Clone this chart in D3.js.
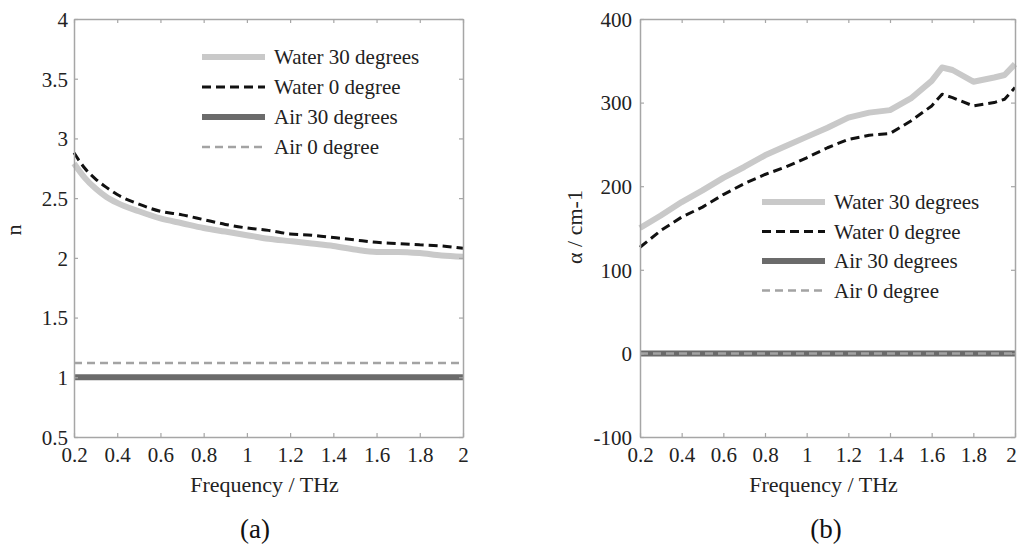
<!DOCTYPE html>
<html>
<head>
<meta charset="utf-8">
<script src="https://cdn.jsdelivr.net/npm/d3@7"></script>
<style>
  body { margin: 0; background: #fff; }
  svg text { font-family: "Liberation Serif", "Times New Roman", Times, "DejaVu Serif", serif; }
</style>
</head>
<body>
<svg id="chart" width="1019" height="548"></svg>
<script>
// frequencies (THz)
const freqA = [0.2, 0.25, 0.3, 0.35, 0.4, 0.5, 0.6, 0.7, 0.8, 0.9, 1.0, 1.1, 1.2, 1.3, 1.4, 1.5, 1.6, 1.7, 1.8, 1.9, 2.0]
const nWater30 = [2.79, 2.67, 2.58, 2.51, 2.46, 2.39, 2.33, 2.29, 2.25, 2.22, 2.19, 2.16, 2.14, 2.12, 2.10, 2.07, 2.05, 2.05, 2.04, 2.02, 2.01]
const nWater0 = [2.88, 2.75, 2.66, 2.59, 2.53, 2.45, 2.39, 2.36, 2.32, 2.28, 2.25, 2.23, 2.20, 2.19, 2.17, 2.15, 2.13, 2.12, 2.11, 2.10, 2.08]
const nAir30 = [1.0, 1.0]
const nAir0 = [1.12, 1.12]

const freqB = [0.2, 0.3, 0.4, 0.5, 0.6, 0.7, 0.8, 0.9, 1.0, 1.1, 1.2, 1.3, 1.4, 1.5, 1.6, 1.65, 1.7, 1.8, 1.9, 1.95, 2.0]
const aWater30 = [150, 165, 181, 195, 210, 223, 237, 248, 259, 270, 282, 288, 291, 305, 326, 342, 339, 325, 330, 333, 346]
const aWater0 = [127, 147, 163, 175, 190, 203, 214, 223, 234, 246, 256, 261, 263, 278, 296, 310, 306, 296, 300, 304, 318]
const aAir30 = [0, 0]
const aAir0 = [0, 0]
const freqEnds = [0.2, 2.0]

const xTicks = [0.2, 0.4, 0.6, 0.8, 1, 1.2, 1.4, 1.6, 1.8, 2]
const nTicks = [0.5, 1, 1.5, 2, 2.5, 3, 3.5, 4]
const aTicks = [-100, 0, 100, 200, 300, 400]
const seriesNames = ["Water 30 degrees", "Water 0 degree", "Air 30 degrees", "Air 0 degree"]

const styles = [
    {stroke: "#c9c9c9", width: 6, dash: null},
    {stroke: "#111", width: 3, dash: "9,5"},
    {stroke: "#6b6b6b", width: 6, dash: null},
    {stroke: "#a3a3a3", width: 2.5, dash: "8,5"}
]

const FONT = "'Liberation Serif', 'Times New Roman', Times, 'DejaVu Serif', serif"
const svg = d3.select("#chart")

function drawPanel(p) {
    const x = d3.scaleLinear().domain([0.2, 2]).range([p.x0, p.x1])
    const y = d3.scaleLinear().domain(p.yDomain).range([p.y1, p.y0])
    const g = svg.append("g")

    const line = d3.line()
        .x(d => x(d[0]))
        .y(d => y(d[1]))
        .curve(p.curve)

    p.series.forEach((s, i) => {
        const pts = s.xs.map((v, j) => [v, s.ys[j]])
        g.append("path")
            .datum(pts)
            .attr("d", line)
            .attr("fill", "none")
            .attr("stroke", styles[i].stroke)
            .attr("stroke-width", styles[i].width)
            .attr("stroke-dasharray", styles[i].dash)
            .attr("stroke-linejoin", "round")
    })

    // box + inward ticks on all sides
    const axisColor = "#a6a6a6"
    const fmt = d => String(d)
    const axes = [
        d3.axisBottom(x).tickValues(xTicks).tickSizeInner(-4).tickSizeOuter(0).tickFormat(fmt),
        d3.axisTop(x).tickValues(xTicks).tickSizeInner(-4).tickSizeOuter(0).tickFormat(""),
        d3.axisLeft(y).tickValues(p.yTicks).tickSizeInner(-4).tickSizeOuter(0).tickFormat(fmt),
        d3.axisRight(y).tickValues(p.yTicks).tickSizeInner(-4).tickSizeOuter(0).tickFormat("")
    ]
    const trans = [`translate(0,${p.y1})`, `translate(0,${p.y0})`, `translate(${p.x0},0)`, `translate(${p.x1},0)`]
    axes.forEach((a, i) => {
        const ag = g.append("g").attr("transform", trans[i]).call(a)
            .attr("font-family", FONT)
        ag.select(".domain").attr("stroke", axisColor).attr("stroke-width", 1.5)
        ag.selectAll(".tick line").attr("stroke", axisColor).attr("stroke-width", 1.2)
        ag.selectAll(".tick text")
            .attr("fill", "#222")
            .style("font-size", "21px")
        if (i === 0) {
            ag.selectAll(".tick text").attr("dy", null).attr("y", 25)
                .attr("x", d => d === 2 ? p.lastTickShift : 0)
        }
        if (i === 2) ag.selectAll(".tick text").attr("x", -p.tickGap).attr("dy", "0.35em")
    })

    g.append("text")
        .attr("x", (p.x0 + p.x1) / 2 - 4)
        .attr("y", 492)
        .attr("text-anchor", "middle")
        .style("font-size", "22px")
        .attr("fill", "#222")
        .text("Frequency / THz")

    g.append("text")
        .attr("transform", `translate(${p.yLabelX},${p.yLabelY}) rotate(-90)`)
        .attr("text-anchor", "middle")
        .style("font-size", "22px")
        .attr("fill", "#222")
        .text(p.yLabel)

    g.append("text")
        .attr("x", p.capX)
        .attr("y", 538)
        .attr("text-anchor", "middle")
        .style("font-size", "27px")
        .attr("fill", "#111")
        .text(p.caption)

    // legend
    const leg = g.append("g")
    seriesNames.forEach((name, i) => {
        const ly = p.legY + i * p.legStep
        leg.append("line")
            .attr("x1", p.legX).attr("x2", p.legX + 63)
            .attr("y1", ly).attr("y2", ly)
            .attr("stroke", styles[i].stroke)
            .attr("stroke-width", styles[i].width)
            .attr("stroke-dasharray", styles[i].dash)
        leg.append("text")
            .attr("x", p.legX + 72)
            .attr("y", ly + 7)
            .style("font-size", "21px")
            .attr("fill", "#222")
            .text(name)
    })
}

drawPanel({
    x0: 74, x1: 463, y0: 19, y1: 437,
    yDomain: [0.5, 4], yTicks: nTicks, tickGap: 6,
    yLabel: "n", yLabelX: 21, yLabelY: 230,
    caption: "(a)", capX: 255,
    legX: 202, legY: 57, legStep: 30,
    curve: d3.curveMonotoneX, lastTickShift: 0,
    series: [
        {xs: freqA, ys: nWater30},
        {xs: freqA, ys: nWater0},
        {xs: freqEnds, ys: nAir30},
        {xs: freqEnds, ys: nAir0}
    ]
})

drawPanel({
    x0: 640, x1: 1015, y0: 19, y1: 437,
    yDomain: [-100, 400], yTicks: aTicks, tickGap: 8,
    yLabel: "α / cm-1", yLabelX: 582, yLabelY: 227,
    caption: "(b)", capX: 826,
    legX: 762, legY: 202, legStep: 29.5,
    curve: d3.curveLinear, lastTickShift: -4,
    series: [
        {xs: freqB, ys: aWater30},
        {xs: freqB, ys: aWater0},
        {xs: freqEnds, ys: aAir30},
        {xs: freqEnds, ys: aAir0}
    ]
})
</script>
</body>
</html>
